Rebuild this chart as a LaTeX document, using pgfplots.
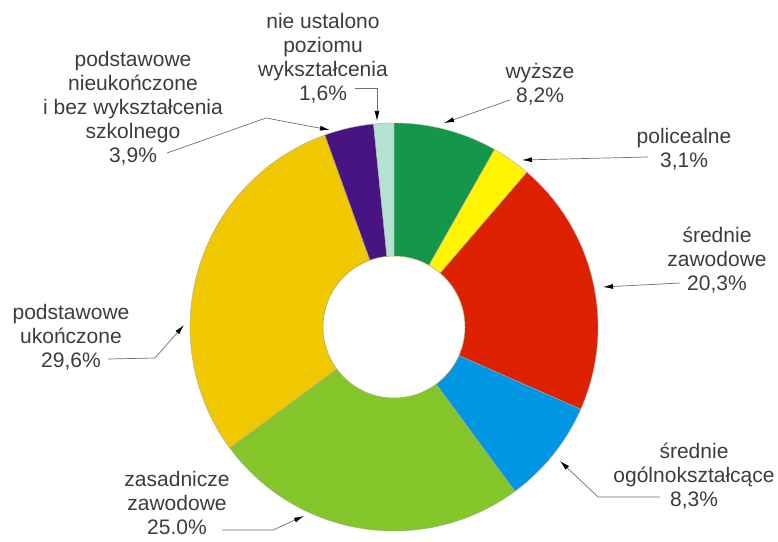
\documentclass[border=0pt]{standalone}
\usepackage{pgfplots}
\pgfplotsset{compat=1.18}
\usepackage{pgfplotstable}
\usepackage{fontspec}
\setmainfont{Liberation Sans}
\usetikzlibrary{arrows.meta}

\definecolor{cWyz}{RGB}{20,150,75}
\definecolor{cPol}{RGB}{255,245,0}
\definecolor{cSrZ}{RGB}{220,32,0}
\definecolor{cSrO}{RGB}{0,150,228}
\definecolor{cZas}{RGB}{132,198,42}
\definecolor{cPodU}{RGB}{240,200,0}
\definecolor{cPodN}{RGB}{72,20,130}
\definecolor{cNie}{RGB}{182,226,210}
\definecolor{txt}{RGB}{60,60,60}
\definecolor{lin}{RGB}{110,110,110}

% shares in percent, clockwise from 12 o'clock
\pgfplotstableread[col sep=comma]{
key,value,color
wyzsze,8.2,cWyz
policealne,3.1,cPol
srednie zawodowe,20.3,cSrZ
srednie ogolnoksztalcace,8.3,cSrO
zasadnicze zawodowe,25.0,cZas
podstawowe ukonczone,29.6,cPodU
podstawowe nieukonczone,3.9,cPodN
nie ustalono,1.6,cNie
}\shares

\begin{document}
\begin{tikzpicture}
\begin{axis}[
    at={(0,0)}, anchor=south west,
    width=778bp, height=542bp, scale only axis,
    xmin=0, xmax=778, ymin=0, ymax=542,
    y dir=reverse,
    hide axis,
    clip=false,
]
\pgfplotstablegetrowsof{\shares}
\pgfmathtruncatemacro\N{\pgfplotsretval-1}
\def\cum{0}
\pgfplotsforeachungrouped \i in {0,...,\N}{
    \pgfplotstablegetelem{\i}{value}\of\shares \let\v\pgfplotsretval
    \pgfplotstablegetelem{\i}{color}\of\shares \let\c\pgfplotsretval
    \pgfmathsetmacro\a{90-3.6*\cum}
    \pgfmathsetmacro\b{90-3.6*(\cum+\v)}
    \edef\temp{\noexpand\filldraw[fill=\c, draw=black!35, line width=0.4pt]
        (axis cs:394,327) -- ++(\a:204bp)
        arc[start angle=\a, end angle=\b, radius=204bp] -- cycle;}
    \temp
    \pgfmathsetmacro\cum{\cum+\v}
}
\filldraw[fill=white, draw=black!35!olive!60, line width=0.5pt] (axis cs:394,327) circle[radius=71bp];

% labels
\begin{scope}[every node/.style={align=center, text=txt,
    font=\fontsize{21bp}{24bp}\selectfont}]
\node at (axis cs:323,58) {nie ustalono\\poziomu\\wykształcenia\\1,6\%};
\node at (axis cs:540,84) {wyższe\\8,2\%};
\node at (axis cs:684,149) {policealne\\3,1\%};
\node at (axis cs:717,260) {średnie\\zawodowe\\20,3\%};
\node at (axis cs:694,476) {średnie\\ogólnokształcące\\8,3\%};
\node at (axis cs:177,503) {zasadnicze\\zawodowe\\25.0\%};
\node at (axis cs:71,337) {podstawowe\\ukończone\\29,6\%};
\node at (axis cs:133,108) {podstawowe\\nieukończone\\i bez wykształcenia\\szkolnego\\3,9\%};
\end{scope}

% leader lines
\begin{scope}[draw=lin, line width=0.7pt, -{Latex[length=10bp,width=5bp,fill=black,color=black]}]
\draw (axis cs:355,88) -- (axis cs:377,88) -- (axis cs:377,121);
\draw (axis cs:510,100) -- (axis cs:444,123);
\draw (axis cs:648,157) -- (axis cs:522,160);
\draw (axis cs:680,283) -- (axis cs:603,287);
\draw (axis cs:660,497) -- (axis cs:598,497) -- (axis cs:560,461);
\draw (axis cs:222,530) -- (axis cs:273,530) -- (axis cs:304,516);
\draw (axis cs:108,359) -- (axis cs:155,358) -- (axis cs:184,325);
\draw (axis cs:167,153) -- (axis cs:266,118) -- (axis cs:330,130);
\end{scope}
\end{axis}
\pgfresetboundingbox
\path[use as bounding box] (0,0) rectangle (778bp,542bp);
\end{tikzpicture}
\end{document}
